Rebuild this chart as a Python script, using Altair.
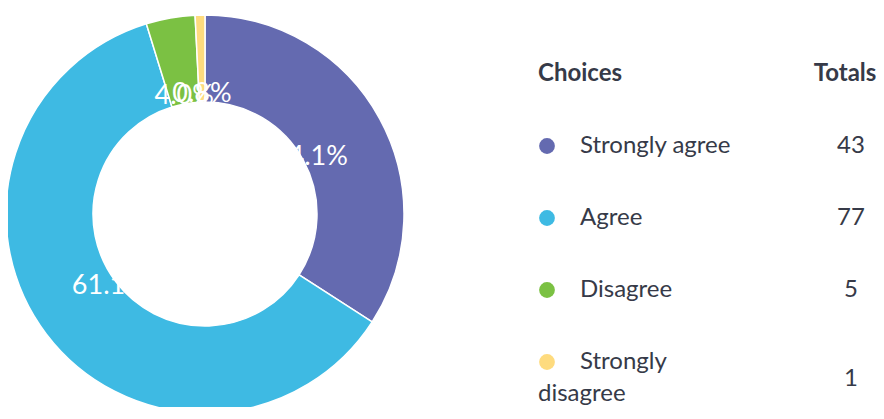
import altair as alt
import pandas as pd

# ---- data ----
choices = ["Strongly agree", "Agree", "Disagree", "Strongly disagree"]
totals = [43, 77, 5, 1]
colors = ["#646ab0", "#3ebae3", "#7bc143", "#fedb7e"]
headers = ["Choices", "Totals"]

FONT = "Lato"
TEXT = "#363a48"
FS = 24


def wrap(label, width=14):
    if len(label) <= width:
        return label, ""
    first, rest = label.split(" ", 1)
    return first, rest


rows = []
for i, (c, t) in enumerate(zip(choices, totals)):
    l1, l2 = wrap(c)
    rows.append(dict(choice=c, total=t, order=i, row=i + 1,
                     line1=l1, line2=l2, wrapped=bool(l2)))
df = pd.DataFrame(rows)
hdr = pd.DataFrame({"h": headers, "row": [0, 0]})

color = alt.Color("choice:N", scale=alt.Scale(domain=choices, range=colors), legend=None)
yscale = alt.Scale(domain=[0, 5], range=[66, 426])

CX, CY, R_OUT, R_IN, R_LAB = 197, 206, 199, 112, 120
X_HDR, X_DOT, X_LAB, X_TOTH, X_TOT = 530, 539, 572, 837, 843

base = alt.Chart(df)

pie = base.mark_arc(outerRadius=R_OUT, innerRadius=R_IN, stroke="white", strokeWidth=1.5).encode(
    theta=alt.Theta("total:Q", stack=True),
    order=alt.Order("order:Q"),
    color=color,
    x=alt.value(CX), y=alt.value(CY),
)

labels = base.transform_joinaggregate(
    sum_total="sum(total)"
).transform_calculate(
    pct="format(datum.total / datum.sum_total * 100, '.1f') + '%'"
).mark_text(radius=R_LAB, font=FONT, fontSize=27, color="white").encode(
    theta=alt.Theta("total:Q", stack=True),
    order=alt.Order("order:Q"),
    text="pct:N",
    x=alt.value(CX), y=alt.value(CY),
)

h_choices = alt.Chart(hdr).transform_filter("datum.h == 'Choices'").mark_text(
    font=FONT, fontSize=FS, fontWeight="bold", color=TEXT, align="left"
).encode(text="h:N", x=alt.value(X_HDR), y=alt.Y("row:Q", scale=yscale, axis=None))

h_totals = alt.Chart(hdr).transform_filter("datum.h == 'Totals'").mark_text(
    font=FONT, fontSize=FS, fontWeight="bold", color=TEXT, align="center"
).encode(text="h:N", x=alt.value(X_TOTH), y=alt.Y("row:Q", scale=yscale, axis=None))

dots = base.mark_circle(size=250, opacity=1).encode(
    x=alt.value(X_DOT), y=alt.Y("row:Q", scale=yscale, axis=None), color=color
)

line1 = base.mark_text(font=FONT, fontSize=FS, color=TEXT, align="left").encode(
    x=alt.value(X_LAB), y=alt.Y("row:Q", scale=yscale, axis=None), text="line1:N"
)

line2 = base.transform_filter("datum.wrapped").transform_calculate(
    y2="datum.row + 0.45"
).mark_text(font=FONT, fontSize=FS, color=TEXT, align="left").encode(
    x=alt.value(X_HDR), y=alt.Y("y2:Q", scale=yscale, axis=None), text="line2:N"
)

tot = base.transform_calculate(
    ty="datum.wrapped ? datum.row + 0.23 : datum.row"
).mark_text(font=FONT, fontSize=FS, color=TEXT, align="center").encode(
    x=alt.value(X_TOT), y=alt.Y("ty:Q", scale=yscale, axis=None), text="total:Q"
)

chart = alt.layer(pie, labels, h_choices, h_totals, dots, line1, line2, tot).properties(
    width=868, height=399, padding=0, background="white",
    autosize=alt.AutoSizeParams(type="none"),
).configure_view(stroke=None)

chart.save("out.html", embed_options={"renderer": "svg", "actions": False})
